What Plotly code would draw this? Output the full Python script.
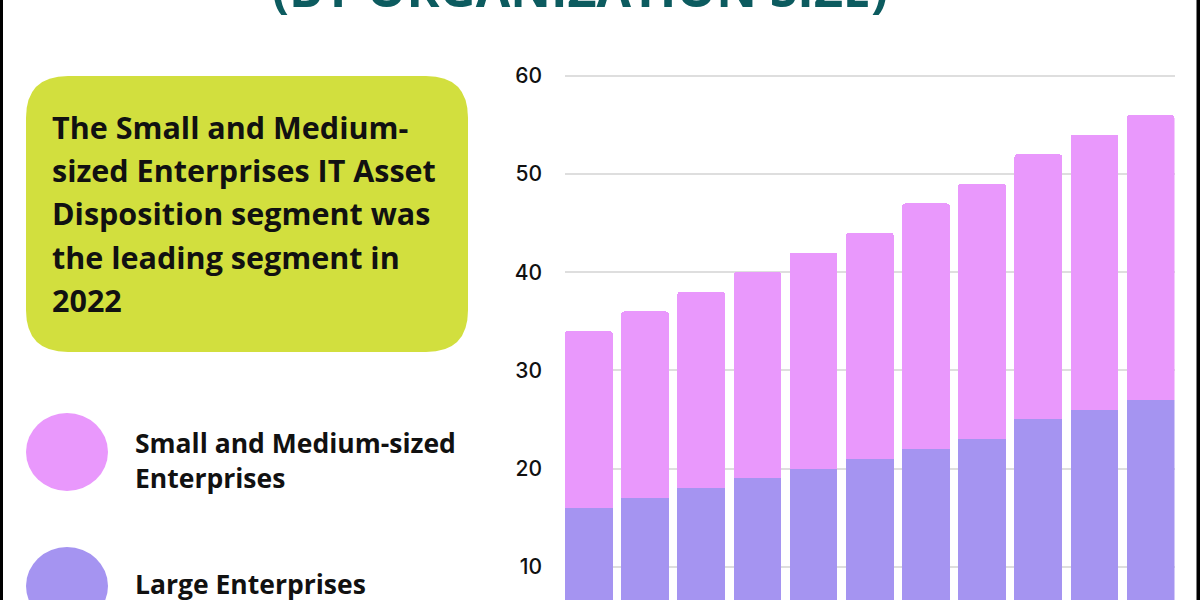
import plotly.graph_objects as go

# ---- data ----
years = ["2022", "2023", "2024", "2025", "2026", "2027", "2028", "2029", "2030", "2031", "2032"]
large_enterprises = [16, 17, 18, 19, 20, 21, 22, 23, 25, 26, 27]
sme_enterprises = [18, 19, 20, 21, 22, 23, 25, 26, 27, 28, 29]
series_names = ["Large Enterprises", "Small and Medium-sized Enterprises"]
y_ticks = [10, 20, 30, 40, 50, 60]

title_text = "(BY ORGANIZATION SIZE)"
box_lines = [
    "The Small and Medium-",
    "sized Enterprises IT Asset",
    "Disposition segment was",
    "the leading segment in",
    "2022",
]

PINK = "#E998FC"
PURPLE = "#A594F1"
BOX = "#D2DF3E"
TEAL = "#0C5B5F"

W, H = 1200, 600


def px(x):
    return x / W


def py(y):
    return 1 - y / H


fig = go.Figure()
fig.add_trace(go.Bar(x=years, y=large_enterprises, name=series_names[0],
                     marker=dict(color=PURPLE, line=dict(width=0))))
fig.add_trace(go.Bar(x=years, y=sme_enterprises, name=series_names[1],
                     marker=dict(color=PINK, line=dict(width=0))))

shapes = []
# rounded box
x0, x1, y0, y1, r = 26, 468, 76, 352, 42
path = (
    f"M {px(x0 + r)} {py(y0)} L {px(x1 - r)} {py(y0)} "
    f"Q {px(x1)} {py(y0)} {px(x1)} {py(y0 + r)} "
    f"L {px(x1)} {py(y1 - r)} "
    f"Q {px(x1)} {py(y1)} {px(x1 - r)} {py(y1)} "
    f"L {px(x0 + r)} {py(y1)} "
    f"Q {px(x0)} {py(y1)} {px(x0)} {py(y1 - r)} "
    f"L {px(x0)} {py(y0 + r)} "
    f"Q {px(x0)} {py(y0)} {px(x0 + r)} {py(y0)} Z"
)
shapes.append(dict(type="path", xref="paper", yref="paper", path=path,
                   fillcolor=BOX, line=dict(width=0), layer="below"))
# legend circles
shapes.append(dict(type="circle", xref="paper", yref="paper",
                   x0=px(26), x1=px(108), y0=py(413), y1=py(491),
                   fillcolor=PINK, line=dict(width=0)))
shapes.append(dict(type="circle", xref="paper", yref="paper",
                   x0=px(26), x1=px(108), y0=py(547), y1=py(625),
                   fillcolor=PURPLE, line=dict(width=0)))
# black side borders
shapes.append(dict(type="rect", xref="paper", yref="paper",
                   x0=0, x1=px(3), y0=0, y1=1, fillcolor="black", line=dict(width=0)))
shapes.append(dict(type="rect", xref="paper", yref="paper",
                   x0=px(1196.5), x1=1, y0=0, y1=1, fillcolor="black", line=dict(width=0)))

TXT_FONT = "Open Sans"
annotations = []
annotations.append(dict(text=f"<b>{title_text}</b>", xref="paper", yref="paper",
                        x=px(580), y=py(-12), xanchor="center", yanchor="middle",
                        showarrow=False, font=dict(family=TXT_FONT, size=50, color=TEAL)))
line_centers = [127, 170, 213, 257, 300]
for txt, yc in zip(box_lines, line_centers):
    annotations.append(dict(text=f"<b>{txt}</b>", xref="paper", yref="paper",
                            x=px(50), y=py(yc), xanchor="left", yanchor="middle",
                            showarrow=False, font=dict(family=TXT_FONT, size=30.5, color="#111111")))
legend_items = [("Small and Medium-sized", 443), ("Enterprises", 478), ("Large Enterprises", 584)]
for txt, yc in legend_items:
    annotations.append(dict(text=f"<b>{txt}</b>", xref="paper", yref="paper",
                            x=px(133), y=py(yc), xanchor="left", yanchor="middle",
                            showarrow=False, font=dict(family=TXT_FONT, size=26.5, color="#111111")))

# y-range: value 60 at y=75.8px, 10 at y=566.7px
ppu = (566.7 - 75.8) / 50
zero_px = 566.7 + 10 * ppu
y_top_px = 66
y_lo = (zero_px - H) / ppu
y_hi = (zero_px - y_top_px) / ppu

fig.update_layout(
    width=W, height=H,
    margin=dict(l=0, r=0, t=0, b=0),
    paper_bgcolor="white", plot_bgcolor="white",
    barmode="stack", bargap=0.15, barcornerradius=3,
    showlegend=False,
    shapes=shapes, annotations=annotations,
    xaxis=dict(domain=[px(565), px(1174.5)], range=[-0.425, 10.425],
               showticklabels=False, showgrid=False, zeroline=False,
               showline=False, ticks=""),
    yaxis=dict(domain=[0, py(y_top_px)], range=[y_lo, y_hi],
               tickvals=y_ticks, showgrid=True, gridcolor="#DEDEDE", gridwidth=2,
               zeroline=False, showline=False, ticks="",
               ticklabelstandoff=22, automargin=False,
               tickfont=dict(family="Inter", size=21, color="#111111", weight=500)),
)

fig.write_html("out.html")
